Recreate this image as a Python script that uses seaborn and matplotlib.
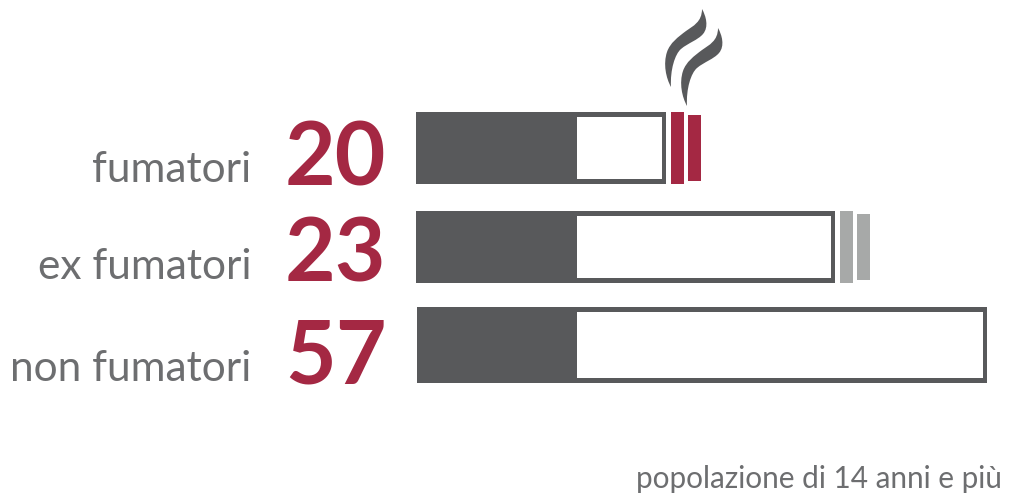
import matplotlib
matplotlib.use("Agg")
import matplotlib.pyplot as plt
from matplotlib.patches import PathPatch
from matplotlib.path import Path
from matplotlib.transforms import Affine2D, ScaledTranslation
import seaborn as sns

# Data
categories = ["fumatori", "ex fumatori", "non fumatori"]
values = [20, 23, 57]
# the cigarettes are not drawn to scale with the values
cigarette_lengths = [250, 419, 571]
filter_length = 161
has_ash = [True, True, False]
note = "popolazione di 14 anni e più"

DARK = "#58595b"
RED = "#a42843"
ASH = "#a7a9a8"
TEXT = "#6d6e70"

W, H = 1021, 502
sns.set_theme(style="white")
plt.rcParams["font.family"] = ["Lato", "DejaVu Sans"]

fig = plt.figure(figsize=((W + 0.1) / 100, (H + 0.1) / 100), dpi=100)
ax = fig.add_axes([416 / W, 0, (W - 416) / W, 1])

row_step = 98.5
first_row = 148.25
bar_height = 72 / row_step

sns.barplot(
    y=categories, x=cigarette_lengths, color=DARK, saturation=1,
    width=bar_height, linewidth=0, ax=ax,
)
ax.set_xlim(0, W - 416)
ax.set_ylim((H - first_row) / row_step, -first_row / row_step)

# last row is slightly bigger and starts 1px later in the original
last = ax.patches[2]
last.set_height(76 / row_step)
last.set_y(2 - 38 / row_step)
last.set_x(1)
last.set_width(cigarette_lengths[2] - 1)

for i, length in enumerate(cigarette_lengths):
    inner_h = (66 if i == 2 else 62) / row_step
    ax.barh(i, length - filter_length - 4, left=filter_length, height=inner_h,
            color="white", linewidth=0)
    if has_ash[i]:
        color = RED if i == 0 else ASH
        ax.barh(i, 13, left=length + 5, height=bar_height, color=color, linewidth=0)
        ax.barh(i, 13, left=length + 22, height=66 / row_step, color=color, linewidth=0)

# values
value_x = [-30, -30, -29]
value_baseline = [0.375, 0.355, 0.385]
for i, v in enumerate(values):
    ax.text(value_x[i], i + value_baseline[i], str(v), ha="right", va="baseline",
            fontsize=63, fontweight="bold", color=RED, clip_on=False)

# category labels as tick labels
sns.despine(ax=ax, left=True, bottom=True)
ax.set_xticks([])
ax.set_xlabel("")
ax.set_ylabel("")
ax.tick_params(axis="y", length=0, pad=165 * 0.72, labelsize=30.5, labelcolor=TEXT)
label_drop = [18, 17, 20]
for lab, drop in zip(ax.get_yticklabels(), label_drop):
    shift = ScaledTranslation(0, -drop / 100, fig.dpi_scale_trans)
    lab.set_transform(lab.get_transform() + shift)

fig.text(1002 / W, 1 - 488 / H, note, ha="right", va="baseline", fontsize=21.4, color=TEXT)

# smoke, in pixel coordinates of the figure
px = Affine2D().scale(1, -1).translate(0, H)
flame = Path(
    [(702, 9), (706, 16), (709, 27), (703, 34), (698, 40), (688, 43), (681, 49),
     (675, 54), (670, 70), (671, 87), (666, 78), (663, 64), (667, 52),
     (670, 43), (678, 37), (686, 31), (693, 26), (702, 22), (702, 9)],
    [Path.MOVETO] + [Path.CURVE4] * 18,
)
for dx, dy in [(0, 0), (16, 19)]:
    fig.add_artist(PathPatch(flame, facecolor=DARK, edgecolor="none",
                             transform=Affine2D().translate(dx, dy) + px))

fig.savefig("out.png", dpi=100)
